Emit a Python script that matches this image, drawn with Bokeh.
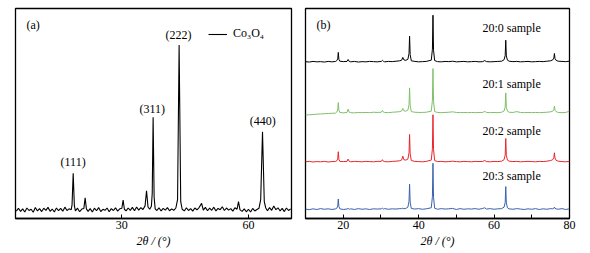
from bokeh.plotting import figure
from bokeh.layouts import row
from bokeh.models import Label, FixedTicker, Range1d, Title
from bokeh.embed import file_html
from bokeh.resources import INLINE

FONT = "Liberation Serif"

# ---------------- panel (a): Co3O4 pattern ----------------
a_two_theta = [
    5.0, 5.5, 6.0, 6.5, 7.0, 7.5, 8.0, 8.5, 9.0, 9.5,
    10.0, 10.5, 11.0, 11.5, 12.0, 12.5, 13.0, 13.5, 14.0, 14.5,
    15.0, 15.5, 16.0, 16.5, 17.0, 17.5, 18.0, 18.2, 18.47, 18.75,
    19.0, 19.5, 20.0, 20.5, 21.0, 21.3, 21.6, 22.0, 22.5, 23.0,
    23.5, 24.0, 24.5, 25.0, 25.5, 26.0, 26.5, 27.0, 27.5, 28.0,
    28.5, 29.0, 29.5, 30.0, 30.3, 30.6, 31.0, 31.5, 32.0, 32.5,
    33.0, 33.5, 34.0, 34.5, 35.0, 35.5, 35.85, 36.2, 36.6, 37.0,
    37.2, 37.41, 37.65, 37.9, 38.3, 38.8, 39.3, 39.8, 40.3, 40.8,
    41.3, 41.8, 42.3, 42.8, 43.2, 43.57, 43.95, 44.3, 44.8, 45.3,
    45.8, 46.3, 46.8, 47.3, 47.8, 48.3, 48.9, 49.3, 49.8, 50.3,
    50.8, 51.3, 51.8, 52.3, 52.8, 53.3, 53.8, 54.3, 54.8, 55.3,
    55.8, 56.3, 56.8, 57.3, 57.64, 58.0, 58.5, 59.0, 59.5, 60.0,
    60.5, 61.0, 61.5, 62.0, 62.5, 62.9, 63.33, 63.75, 64.1, 64.5,
    65.0, 65.5, 66.0, 66.5, 67.0, 67.5, 68.0, 68.5, 69.0, 69.5,
    70.0,
]
a_intensity = [
    3.5, 4.9, 3.4, 4.6, 3.1, 5.0, 3.8, 4.4, 3.0, 5.2,
    3.6, 4.7, 3.3, 4.9, 3.9, 5.3, 3.4, 4.5, 3.1, 5.0,
    3.7, 4.8, 3.5, 5.4, 3.8, 4.6, 4.2, 6.5, 21.5, 6.0,
    3.6, 4.9, 3.2, 4.5, 4.8, 9.8, 4.6, 3.4, 4.7, 3.1,
    4.9, 3.7, 5.2, 3.3, 4.4, 3.9, 5.0, 3.2, 4.7, 3.8,
    5.1, 3.5, 4.6, 4.9, 8.8, 4.4, 3.6, 5.0, 3.9, 5.3,
    3.7, 5.5, 4.0, 5.2, 4.3, 6.0, 13.2, 5.5, 4.4, 5.8,
    12.0, 48.2, 10.0, 4.6, 3.8, 5.1, 3.6, 4.8, 4.0, 5.2,
    3.7, 4.6, 3.9, 5.0, 9.0, 82.6, 8.0, 4.4, 3.6, 5.1,
    3.8, 4.7, 3.5, 5.0, 4.1, 5.2, 7.2, 4.0, 5.3, 3.7,
    4.9, 3.9, 5.4, 3.6, 4.8, 4.2, 5.6, 3.8, 5.0, 4.0,
    4.7, 3.5, 5.1, 4.4, 8.0, 4.1, 3.4, 4.6, 3.2, 4.4,
    3.1, 4.8, 3.6, 4.3, 4.9, 9.0, 41.3, 8.0, 5.0, 3.7,
    5.2, 3.9, 6.0, 4.2, 5.1, 3.6, 4.8, 3.3, 5.0, 3.8,
    4.6,
]
a_peak_labels = ["(111)", "(311)", "(222)", "(440)"]
a_peak_pos = [18.45, 37.2, 43.4, 63.4]
a_label_y = [26.9, 52.1, 87.6, 46.4]
a_series_name = "Co\u2083O\u2084"
a_ticks = [30, 60]
x_title = "2\u03b8 / (\u00b0)"

# ---------------- panel (b): four samples ----------------
b_two_theta = [
    10, 11, 12, 13, 14, 15, 16, 17, 18, 18.3,
    18.55, 18.7, 18.85, 19.1, 20, 21.0, 21.3, 21.6, 22, 23,
    24, 25, 26, 27, 28, 29, 30.1, 30.4, 30.7, 31,
    32, 33, 34, 35, 35.5, 35.8, 36.1, 36.6, 37.15, 37.45,
    37.6, 37.75, 38.05, 39, 40, 41, 42, 43.35, 43.65, 43.8,
    43.95, 44.25, 45, 46, 47, 48, 49, 50, 51, 52,
    53, 54, 55, 56, 57, 57.5, 58, 59, 60, 61,
    62, 62.65, 62.95, 63.1, 63.25, 63.55, 64, 65, 66, 67,
    68, 69, 70, 71, 72, 73, 74, 75, 75.55, 75.85,
    76.0, 76.15, 76.45, 77, 78, 79, 80,
]
b_black = [
    0.1, -0.1, 0.2, 0.0, 0.1, -0.1, 0.2, 0.0, 0.2, 0.6,
    1.4, 4.5, 1.2, 0.3, 0.1, 0.2, 1.1, 0.2, 0.0, 0.2,
    -0.1, 0.1, 0.0, 0.2, 0.1, 0.0, 0.2, 0.7, 0.2, 0.0,
    0.2, 0.1, 0.3, 0.5, 0.8, 2.1, 0.9, 0.7, 1.2, 4.0,
    12.2, 3.5, 0.5, 0.2, 0.0, 0.1, 0.2, 0.8, 6.0, 22.2,
    5.5, 0.6, 0.1, 0.0, 0.2, 0.1, 0.3, 0.0, 0.1, 0.2,
    0.0, 0.1, 0.2, 0.0, 0.1, 0.6, 0.1, 0.0, 0.1, 0.2,
    0.3, 1.0, 3.0, 10.3, 2.8, 0.8, 0.3, 0.1, 0.2, 0.0,
    0.1, 0.2, 0.0, 0.1, 0.2, 0.1, 0.3, 0.5, 0.9, 1.8,
    4.0, 1.6, 0.7, 0.3, 0.2, 0.1, 0.3,
]
b_green = [
    -1.0, -0.9, -0.8, -0.6, -0.5, -0.4, -0.3, -0.2, -0.1, 0.4,
    1.4, 4.9, 1.3, 0.2, 0.0, 0.2, 1.8, 0.3, 0.1, 0.0,
    0.2, 0.1, 0.2, 0.1, 0.3, 0.2, 0.3, 1.2, 0.3, 0.2,
    0.1, 0.3, 0.4, 0.6, 0.9, 2.1, 1.0, 0.8, 1.3, 4.0,
    11.9, 3.6, 0.6, 0.3, 0.2, 0.2, 0.3, 0.8, 6.0, 21.1,
    5.5, 0.6, 0.2, 0.1, 0.2, 0.3, 0.5, 0.2, 0.1, 0.2,
    0.1, 0.2, 0.1, 0.2, 0.2, 0.7, 0.2, 0.1, 0.2, 0.1,
    0.3, 0.9, 2.8, 9.5, 2.6, 0.8, 0.3, 0.2, 0.6, 0.2,
    0.1, 0.2, 0.1, 0.2, 0.1, 0.2, 0.3, 0.5, 0.8, 1.5,
    3.2, 1.3, 0.6, 0.2, 0.1, 0.2, 0.8,
]
b_red = [
    0.0, 0.2, -0.1, 0.1, 0.0, 0.2, -0.1, 0.1, 0.2, 0.5,
    1.4, 4.8, 1.2, 0.2, 0.1, 0.2, 1.3, 0.2, 0.0, 0.2,
    0.1, 0.0, 0.2, 0.1, 0.0, 0.2, 0.2, 1.0, 0.2, 0.1,
    0.0, 0.2, 0.3, 0.5, 0.9, 2.7, 1.0, 0.8, 1.3, 4.3,
    13.0, 3.8, 0.6, 0.2, 0.1, 0.0, 0.2, 0.8, 6.2, 22.4,
    5.8, 0.6, 0.1, 0.2, 0.0, 0.1, 0.3, 0.1, 0.0, 0.2,
    0.1, 0.0, 0.2, 0.1, 0.2, 0.6, 0.1, 0.0, 0.2, 0.1,
    0.3, 1.0, 3.2, 11.1, 3.0, 0.8, 0.3, 0.1, 0.2, 0.0,
    0.1, 0.2, 0.1, 0.0, 0.2, 0.1, 0.3, 0.6, 1.0, 2.0,
    4.3, 1.8, 0.7, 0.3, 0.1, 0.0, 0.2,
]
b_blue = [
    0.1, -0.2, 0.2, -0.1, 0.3, 0.0, 0.2, -0.1, 0.2, 0.5,
    1.5, 4.9, 1.3, 0.2, -0.1, 0.1, 0.4, 0.0, 0.2, -0.1,
    0.3, 0.0, 0.2, -0.1, 0.2, 0.1, 0.2, 0.5, 0.1, 0.3,
    0.0, 0.2, 0.1, 0.3, 0.3, 0.5, 0.2, 0.4, 1.0, 3.8,
    11.9, 3.4, 0.4, 0.1, 0.3, 0.0, 0.2, 0.7, 6.0, 21.9,
    5.6, 0.5, 0.0, 0.3, 0.1, 0.2, 0.4, -0.1, 0.3, 0.0,
    0.2, 0.1, 0.3, 0.0, 0.4, 0.7, 0.1, 0.3, 0.0, 0.2,
    0.3, 1.0, 3.2, 10.8, 3.0, 0.7, 0.2, 0.0, 0.3, 0.1,
    -0.1, 0.2, 0.0, 0.3, -0.1, 0.2, 0.0, 0.3, 0.2, 0.5,
    1.0, 0.4, 0.2, 0.0, 0.3, -0.1, 0.2,
]
b_samples = ["20:0 sample", "20:1 sample", "20:2 sample", "20:3 sample"]
b_series = [b_black, b_green, b_red, b_blue]
b_offsets = [74.6, 50.3, 27.0, 4.4]
b_colors = ["#000000", "#7fbf6a", "#e8262c", "#3a62ab"]
b_label_y = [90.5, 64.0, 41.8, 20.2]
b_major_ticks = [20, 40, 60, 80]
b_minor_ticks = [30, 50, 70]

for s in b_series:
    assert len(s) == len(b_two_theta)
assert len(a_intensity) == len(a_two_theta)


def style(p, ticks, minor, title_offset):
    p.outline_line_color = "black"
    p.outline_line_width = 1.3
    p.outline_line_alpha = 1.0
    p.grid.visible = False
    ax = p.xaxis[0]
    ax.ticker = FixedTicker(ticks=ticks, minor_ticks=minor)
    ax.axis_line_color = "black"
    ax.axis_line_width = 1.3
    ax.major_tick_in = 4
    ax.major_tick_out = 0
    ax.minor_tick_in = 4
    ax.minor_tick_out = 0
    ax.major_tick_line_color = "black"
    ax.minor_tick_line_color = "black"
    ax.major_label_text_font = FONT
    ax.major_label_text_font_size = "12px"
    ax.major_label_text_color = "black"
    ax.major_label_standoff = 2
    p.add_layout(Title(text=x_title, align="center", offset=title_offset,
                       text_font=FONT, text_font_size="12px", text_font_style="italic",
                       text_color="black", standoff=0), "below")


def lbl(p, x, y, text, align="center"):
    p.add_layout(Label(x=x, y=y, text=text, text_font=FONT, text_font_size="12px",
                       text_align=align, text_baseline="middle", text_color="black"))


# ---- figure (a)
pa = figure(width=298, height=253, x_range=Range1d(4.8, 70.2), y_range=Range1d(0, 100),
            y_axis_location=None, toolbar_location=None, output_backend="svg",
            min_border_left=15, min_border_right=7, min_border_top=8, min_border_bottom=35,
            background_fill_color="white", border_fill_color="white")
style(pa, a_ticks, [], 14)
pa.line(a_two_theta, a_intensity, line_color="black", line_width=1.1,
        legend_label=a_series_name)
leg = pa.legend[0]
leg.location = (193, 177)
leg.border_line_color = None
leg.background_fill_alpha = 0
leg.padding = 0
leg.margin = 0
leg.spacing = 0
leg.glyph_width = 19
leg.glyph_height = 14
leg.label_height = 14
leg.label_standoff = 6
leg.label_text_font = FONT
leg.label_text_font_size = "12px"
leg.label_text_color = "black"

for t, x, y in zip(a_peak_labels, a_peak_pos, a_label_y):
    lbl(pa, x, y, t)
lbl(pa, 7.4, 92.1, "(a)", align="left")

# ---- figure (b)
pb = figure(width=292, height=253, x_range=Range1d(10, 80), y_range=Range1d(0, 100),
            y_axis_location=None, toolbar_location=None, output_backend="svg",
            min_border_left=7, min_border_right=21, min_border_top=8, min_border_bottom=35,
            background_fill_color="white", border_fill_color="white")
style(pb, b_major_ticks, b_minor_ticks, 9)
for s, off, c in zip(b_series, b_offsets, b_colors):
    pb.line(b_two_theta, [v + off for v in s], line_color=c, line_width=1.0)
for t, y in zip(b_samples, b_label_y):
    lbl(pb, 56.9, y, t, align="left")
lbl(pb, 12.9, 92.1, "(b)", align="left")

layout = row(pa, pb)
open("out.html", "w").write(file_html(layout, INLINE))
